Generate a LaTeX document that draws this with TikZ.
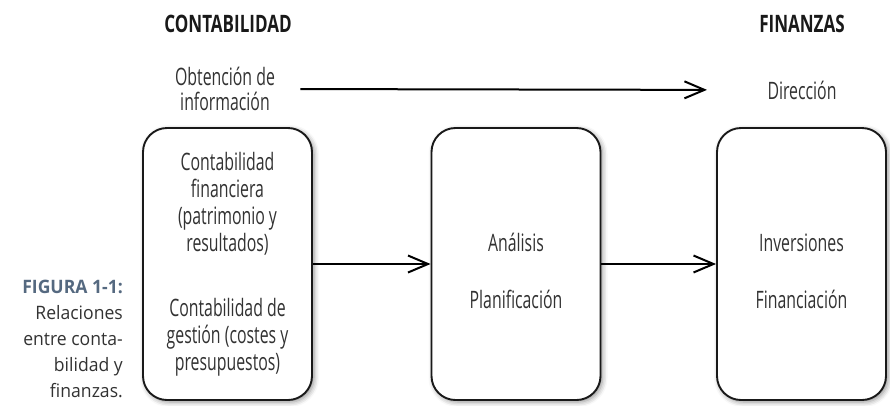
\documentclass[tikz,border=0pt]{standalone}
\usepackage{fontspec}
\setmainfont{Open Sans}[FakeStretch=0.66]
\newfontfamily\headfont{Open Sans}[FakeStretch=0.71]
\newfontfamily\capfont{Open Sans}[FakeStretch=0.95]
\usetikzlibrary{arrows.meta,shadows.blur}
\definecolor{txt}{RGB}{50,50,50}
\definecolor{capc}{RGB}{85,105,128}
\tikzset{
  box/.style={draw=black!90, line width=1.9pt, rounded corners=24pt, fill=white,
    minimum width=169pt, minimum height=272pt, align=center, text=txt,
    font=\fontsize{24}{27}\selectfont,
    blur shadow={shadow xshift=2pt, shadow yshift=-2pt, shadow blur radius=5pt, shadow opacity=45}},
  arr/.style={line width=2pt, -{Straight Barb[length=20pt,width=17pt,line width=2pt]}},
  head/.style={font=\fontsize{24}{28}\headfont\bfseries\selectfont, text=black!90},
  lbl/.style={align=center, text=txt, font=\fontsize{24}{25}\selectfont},
  capt/.style={align=right, text=txt, font=\fontsize{18.5}{26}\capfont\selectfont},
}
\begin{document}
\begin{tikzpicture}[x=1pt,y=-1pt]
\useasboundingbox (0,0) rectangle (890,405);
\node[head] (hc) at (228,24) {CONTABILIDAD};
\node[head] (hf) at (802,24) {FINANZAS};
\node[lbl] (obt) at (225,89) {Obtención de\\información};
\node[lbl] (dir) at (802,90) {Dirección};
\node[box] (b1) at (227.5,264) {Contabilidad\\financiera\\(patrimonio y\\resultados)\\[38pt]Contabilidad de\\gestión (costes y\\presupuestos)};
\node[box] (b2) at (516,264) {\rule{0pt}{32pt}Análisis\\[30pt]Planificación};
\node[box] (b3) at (801.5,264) {\rule{0pt}{32pt}Inversiones\\[30pt]Financiación};
\draw[arr] (b1.east) -- (b2.west);
\draw[arr] (b2.east) -- (b3.west);
\draw[arr, shorten <=22pt, shorten >=57pt] (obt.east) -- (dir.west);
\node[capt, anchor=north east, inner sep=0pt] (cap) at (123,280)
  {{\bfseries\color{capc}FIGURA 1-1:}\\Relaciones\\entre conta-\\bilidad y\\finanzas.};
\end{tikzpicture}
\end{document}
